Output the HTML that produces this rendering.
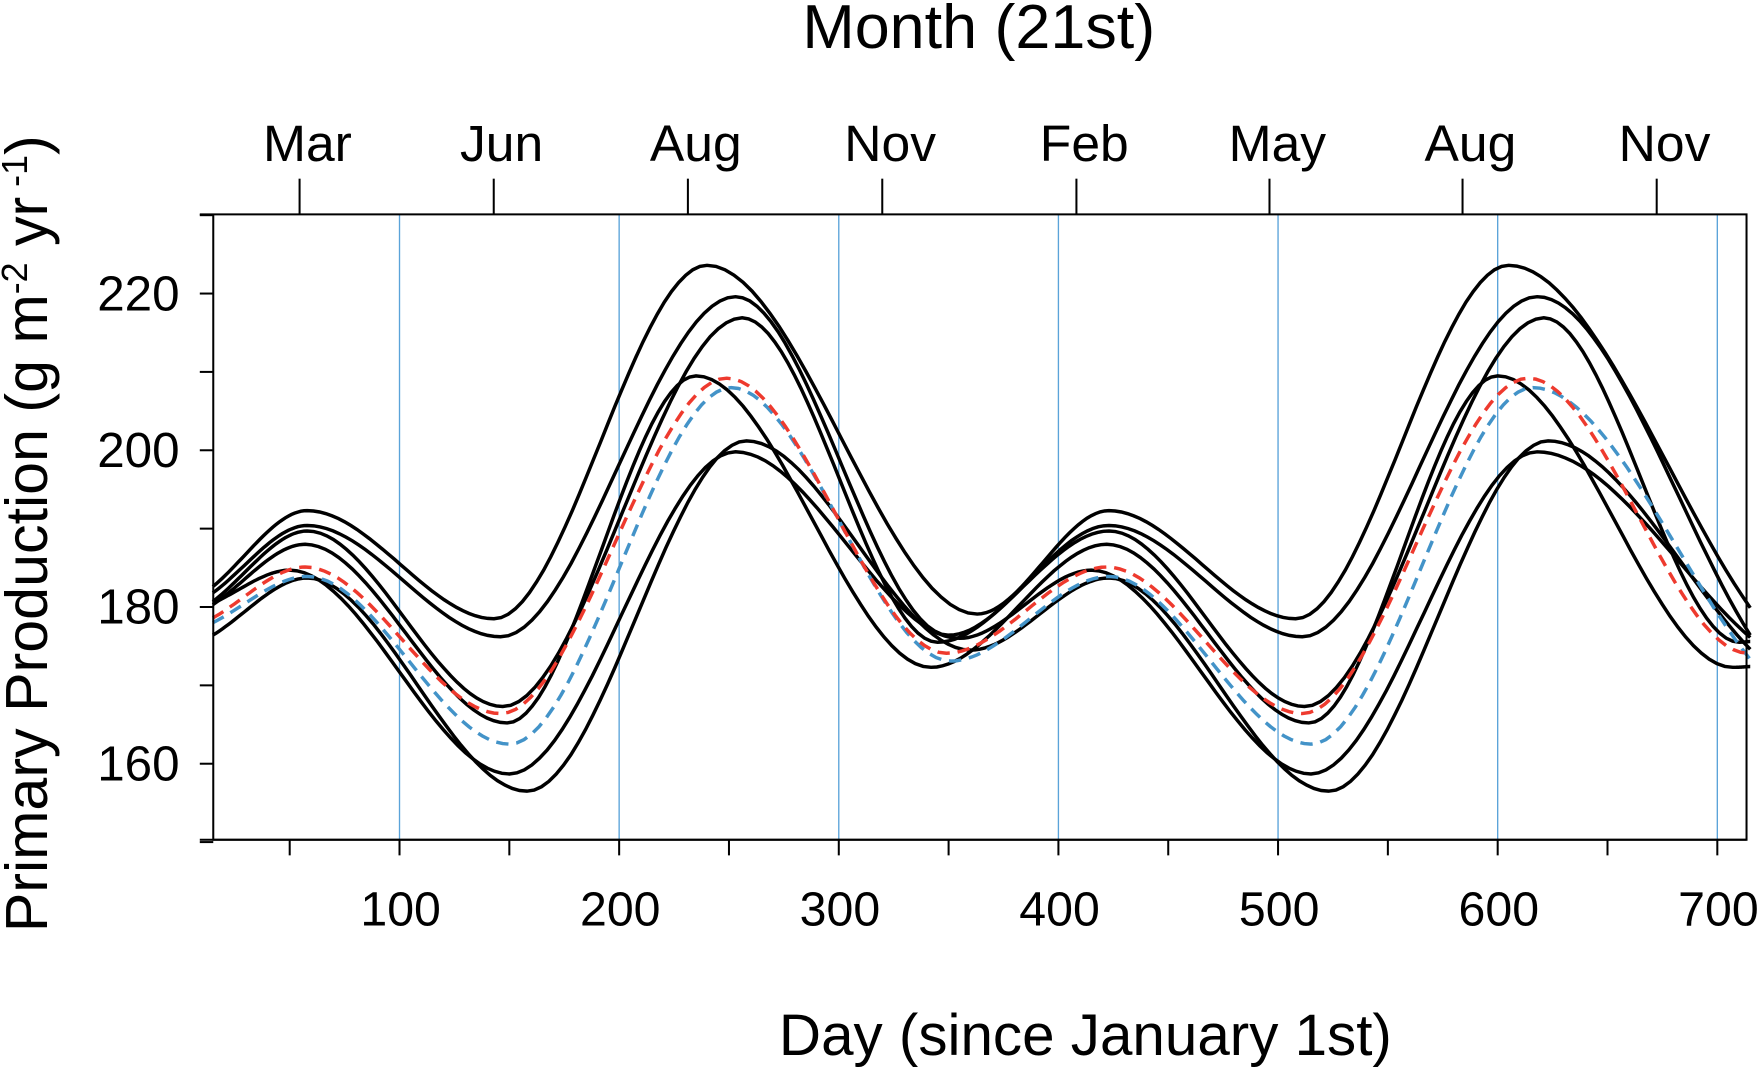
<!DOCTYPE html>
<html><head><meta charset="utf-8"><style>
html,body{margin:0;padding:0;background:#fff;}
svg{display:block;}
text{font-family:"Liberation Sans",Arial,sans-serif;fill:#000;}
</style></head><body>
<svg id="chart" width="1760" height="1072" viewBox="0 0 1568 960" preserveAspectRatio="none" xmlns="http://www.w3.org/2000/svg">
<g id="grid"></g>
<g id="series"></g>
<g id="axes"></g>
<text x="872" y="43" font-size="56" text-anchor="middle">Month (21st)</text>
<text x="967" y="945" font-size="52" text-anchor="middle">Day (since January 1st)</text>
<text transform="translate(42,478) rotate(-90)" font-size="53" text-anchor="middle">Primary Production (g m<tspan dy="-18" font-size="32">-2</tspan><tspan dy="18"> yr</tspan><tspan dy="-18" font-size="32"> -1</tspan><tspan dy="18">)</tspan></text>
</svg>
<script>
const xTicks=[100,200,300,400,500,600,700];
const xMinor=[50,150,250,350,450,550,650];
const yTicks=[160,180,200,220];
const yMinor=[150,170,190,210,230];
const monthLabels=["Mar","Jun","Aug","Nov","Feb","May","Aug","Nov"];
const monthDays=[54.5,142.9,231.3,319.8,408.2,496.1,584,672.4];
const gridDays=[100,200,300,400,500,600,700];

const c1Days=[15,58,143,240,363,423,508,605,715];
const c1Vals=[182.6,192.3,178.5,223.6,179.1,192.3,178.5,223.6,179.9];
const c2Days=[15,58,146,253,350,423,511,618,715];
const c2Vals=[181.8,190.4,176.2,219.6,176.4,190.4,176.2,219.6,176.4];
const c3Days=[15,58,147,256,345,423,512,621,710,715];
const c3Vals=[180.7,189.7,167.3,216.9,175.5,189.7,167.3,216.9,175.5,175.6];
const c4Days=[15,57,149,235,342,422,514,600,707,715];
const c4Vals=[180.3,188,165.2,209.5,172.3,188,165.2,209.5,172.3,172.4];
const c5Days=[15,50,150,253,355,415,515,618,715];
const c5Vals=[180.5,184.7,158.7,199.8,176,184.7,158.7,199.8,176.1];
const c6Days=[15,58,158,258,360,423,523,623,715];
const c6Vals=[176.4,183.7,156.5,201.2,174.5,183.7,156.5,201.2,174.6];
const redDays=[15,57,146,249,349,422,511,614,714,715];
const redVals=[178.6,185.1,166.4,209.2,174.1,185.1,166.4,209.2,174.1,174.1];
const blueDays=[15,58,150,251,351,423,515,616,715];
const blueVals=[178,183.9,162.5,208,173.1,183.9,162.5,208,173.3];

const L=190,R=1556,T=192,B=752;
const X0=15.2,X1=713.3,Y0=150.3,Y1=230.1;
function sx(d){return L+(d-X0)/(X1-X0)*(R-L);}
function sy(v){return B-(v-Y0)/(Y1-Y0)*(B-T);}
const NS="http://www.w3.org/2000/svg";
function mk(tag,parent,attrs){const e=document.createElementNS(NS,tag);for(const k in attrs)e.setAttribute(k,attrs[k]);parent.appendChild(e);return e;}

function monotone(xs,ys){
  const n=xs.length,d=[],m=[];
  for(let i=0;i<n-1;i++)d.push((ys[i+1]-ys[i])/(xs[i+1]-xs[i]));
  for(let i=0;i<n;i++){
    if(i==0)m.push(d[0]);else if(i==n-1)m.push(d[n-2]);
    else m.push(d[i-1]*d[i]<=0?0:2/(1/d[i-1]+1/d[i]));
  }
  const pts=[];
  for(let i=0;i<n-1;i++){
    const h=xs[i+1]-xs[i];
    for(let k=0;k<30;k++){
      const t=k/30,t2=t*t,t3=t2*t;
      const y=(2*t3-3*t2+1)*ys[i]+(t3-2*t2+t)*h*m[i]+(-2*t3+3*t2)*ys[i+1]+(t3-t2)*h*m[i+1];
      pts.push([xs[i]+t*h,y]);
    }
  }
  pts.push([xs[n-1],ys[n-1]]);
  return pts;
}
const grid=document.getElementById('grid'),series=document.getElementById('series'),axes=document.getElementById('axes');
gridDays.forEach(d=>{
  const l=mk('line',grid,{x1:sx(d),x2:sx(d),y1:T,y2:B,stroke:'#5ba3d9','stroke-width':1.2});
  
  
});
const defs=[[c1Days,c1Vals,'#000','','curve-1'],[c2Days,c2Vals,'#000','','curve-2'],[c3Days,c3Vals,'#000','','curve-3'],[c4Days,c4Vals,'#000','','curve-4'],[c5Days,c5Vals,'#000','','curve-5'],[c6Days,c6Vals,'#000','','curve-6'],[blueDays,blueVals,'#4393c8','11,7','blue-dashed-curve'],[redDays,redVals,'#ee3a2e','11,7','red-dashed-curve']];
defs.forEach(s=>{
  const p=monotone(s[0],s[1]).map((q,i)=>(i?'L':'M')+sx(q[0]).toFixed(1)+','+sy(q[1]).toFixed(1)).join('');
  const a={d:p,fill:'none',stroke:s[2],'stroke-width':3.1};
  if(s[3])a['stroke-dasharray']=s[3];
  const e=mk('path',series,a);
  
  
});
const frame=mk('path',axes,{d:`M${L},${T}H${R}V${B}H${L}Z M178,${T}H${L}`,fill:'none',stroke:'#000','stroke-width':1.8});


const bl=mk('line',axes,{x1:178,x2:R,y1:B,y2:B,stroke:'#000','stroke-width':1.8});


xTicks.concat(xMinor).forEach(d=>{
  const t=mk('line',axes,{x1:sx(d),x2:sx(d),y1:B,y2:B+14,stroke:'#000','stroke-width':1.8});
  
  
});
xTicks.forEach(d=>{
  const t=mk('text',axes,{x:sx(d)+1,y:829,'font-size':43,'text-anchor':'middle'});
  t.textContent=d;
  
  
});
yTicks.concat(yMinor).forEach(v=>{
  const t=mk('line',axes,{x1:178,x2:L,y1:sy(v),y2:sy(v),stroke:'#000','stroke-width':1.8});
  
  
});
yTicks.forEach(v=>{
  const t=mk('text',axes,{x:160,y:sy(v)+15,'font-size':44,'text-anchor':'end'});
  t.textContent=v;
  
  
});
monthDays.forEach((d,i)=>{
  const t=mk('line',axes,{x1:sx(d),x2:sx(d),y1:T,y2:160,stroke:'#000','stroke-width':1.8});
  
  
  const lb=mk('text',axes,{x:sx(d)+7,y:144,'font-size':46,'text-anchor':'middle'});
  lb.textContent=monthLabels[i];
  
  
});
</script>
</body></html>
